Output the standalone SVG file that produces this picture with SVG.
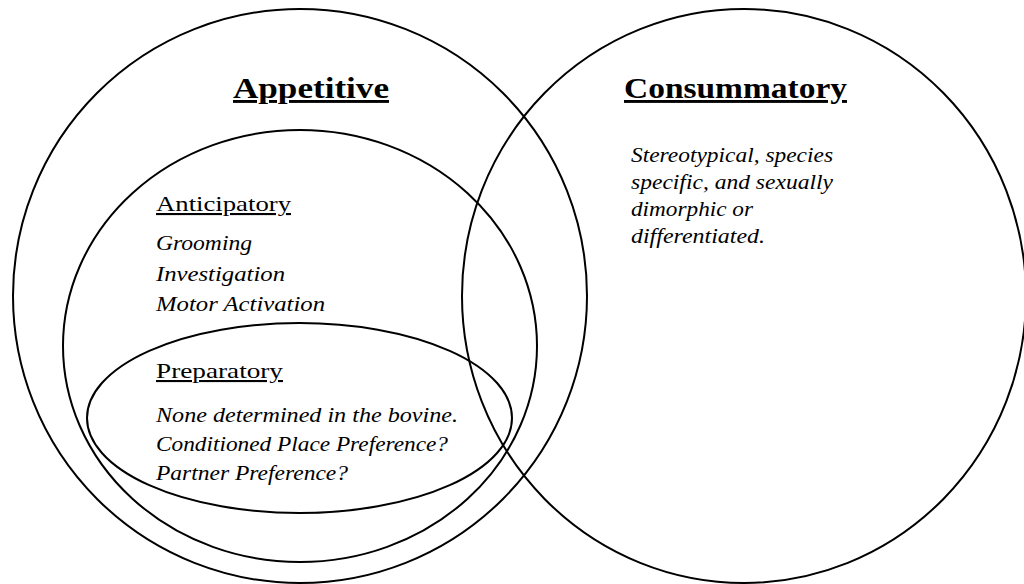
<svg xmlns="http://www.w3.org/2000/svg" width="1024" height="584" viewBox="0 0 1024 584">
<style>
.sh{fill:none;stroke:#000;stroke-width:2}
.h1{font-family:"Liberation Serif",serif;font-weight:bold;font-size:29px;fill:#000;text-decoration:underline}
.h2{font-family:"Liberation Serif",serif;font-size:21px;fill:#000;text-decoration:underline}
.it{font-family:"Liberation Serif",serif;font-style:italic;font-size:20px;fill:#000}
</style>
<rect width="1024" height="584" fill="#fff"/>
<g id="appetitive">
<ellipse class="sh" cx="300" cy="296" rx="287" ry="287"/>
<text class="h1" x="233" y="98" textLength="156" lengthAdjust="spacingAndGlyphs">Appetitive</text>
</g>
<g id="consummatory">
<ellipse class="sh" cx="744" cy="296" rx="282" ry="287"/>
<text class="h1" x="624" y="98" textLength="223" lengthAdjust="spacingAndGlyphs">Consummatory</text>
<text class="it" x="631" y="162" textLength="202" lengthAdjust="spacingAndGlyphs">Stereotypical, species</text>
<text class="it" x="631" y="189" textLength="202" lengthAdjust="spacingAndGlyphs">specific, and sexually</text>
<text class="it" x="631" y="216" textLength="122" lengthAdjust="spacingAndGlyphs">dimorphic or</text>
<text class="it" x="631" y="243" textLength="134" lengthAdjust="spacingAndGlyphs">differentiated.</text>
</g>
<g id="anticipatory">
<ellipse class="sh" cx="300" cy="346" rx="237" ry="216"/>
<text class="h2" x="156" y="211" textLength="135" lengthAdjust="spacingAndGlyphs">Anticipatory</text>
<text class="it" x="156" y="250" textLength="96" lengthAdjust="spacingAndGlyphs">Grooming</text>
<text class="it" x="156" y="281" textLength="129" lengthAdjust="spacingAndGlyphs">Investigation</text>
<text class="it" x="156" y="311" textLength="169" lengthAdjust="spacingAndGlyphs">Motor Activation</text>
</g>
<g id="preparatory">
<ellipse class="sh" cx="299.5" cy="418" rx="212.5" ry="95"/>
<text class="h2" x="156" y="378" textLength="127" lengthAdjust="spacingAndGlyphs">Preparatory</text>
<text class="it" x="156" y="422" textLength="302" lengthAdjust="spacingAndGlyphs">None determined in the bovine.</text>
<text class="it" x="156" y="451" textLength="292" lengthAdjust="spacingAndGlyphs">Conditioned Place Preference?</text>
<text class="it" x="156" y="480" textLength="192" lengthAdjust="spacingAndGlyphs">Partner Preference?</text>
</g>
<g id="connectors"></g>
</svg>
